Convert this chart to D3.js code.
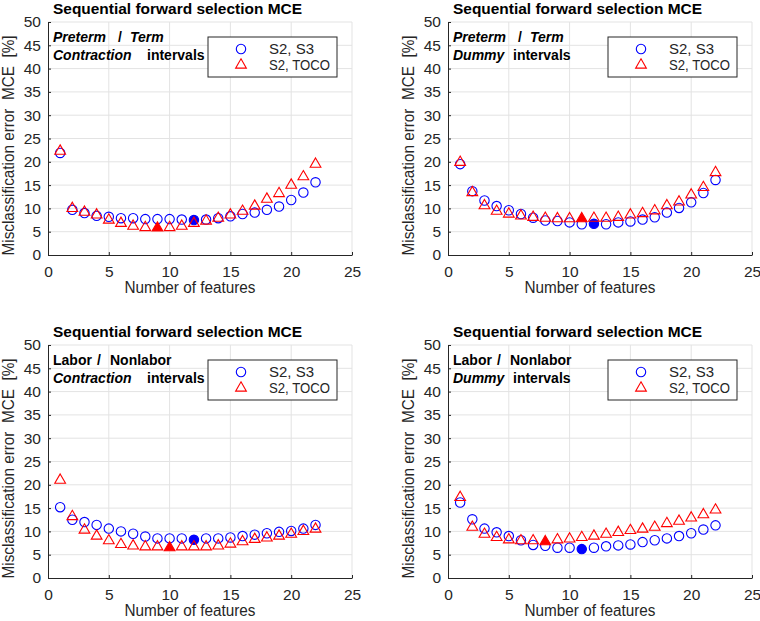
<!DOCTYPE html>
<html>
<head>
<meta charset="utf-8">
<script src="https://cdn.jsdelivr.net/npm/d3@7"></script>
<style>
body { margin: 0; background: #fff; }
text { font-family: "Liberation Sans", Arial, sans-serif; }
</style>
</head>
<body>
<div class="container"></div>
<script>
// number of features on x axis
const features = [1, 2, 3, 4, 5, 6, 7, 8, 9, 10, 11, 12, 13, 14, 15, 16, 17, 18, 19, 20, 21, 22];

// Preterm / Term, contraction intervals
const ptContS3 = [21.9, 9.7, 9.0, 8.4, 8.2, 7.9, 7.9, 7.7, 7.7, 7.7, 7.6, 7.5, 7.6, 7.9, 8.3, 8.8, 9.1, 9.7, 10.4, 11.8, 13.4, 15.6];
const ptContToco = [22.3, 10.0, 9.2, 8.6, 7.5, 6.8, 6.2, 5.9, 5.8, 5.9, 6.2, 6.8, 7.3, 7.9, 8.6, 9.4, 10.5, 12.0, 13.2, 15.0, 16.8, 19.5];

// Preterm / Term, dummy intervals
const ptDumS3 = [19.5, 13.7, 11.7, 10.5, 9.6, 8.8, 8.0, 7.4, 7.3, 7.0, 6.6, 6.7, 6.6, 7.0, 7.2, 7.6, 8.1, 9.1, 10.1, 11.3, 13.3, 16.1];
const ptDumToco = [19.9, 13.4, 10.6, 9.4, 8.8, 8.4, 8.1, 7.9, 7.8, 7.8, 7.8, 7.9, 7.9, 8.1, 8.6, 8.9, 9.5, 10.6, 11.4, 12.9, 14.5, 17.7];

// Labor / Nonlabor, contraction intervals
const lnContS3 = [15.2, 12.5, 12.0, 11.4, 10.6, 10.0, 9.5, 8.9, 8.5, 8.5, 8.5, 8.2, 8.5, 8.5, 8.7, 9.0, 9.3, 9.6, 9.9, 10.1, 10.6, 11.4];
const lnContToco = [21.0, 13.2, 10.3, 9.0, 8.0, 7.2, 6.9, 6.7, 6.7, 6.5, 6.7, 6.7, 6.7, 6.9, 7.3, 7.8, 8.3, 8.6, 9.0, 9.4, 10.0, 10.5];

// Labor / Nonlabor, dummy intervals
const lnDumS3 = [16.2, 12.6, 10.6, 9.8, 9.0, 8.1, 7.1, 6.9, 6.5, 6.5, 6.2, 6.5, 6.8, 7.0, 7.2, 7.7, 8.1, 8.5, 9.0, 9.6, 10.4, 11.3];
const lnDumToco = [17.3, 10.9, 9.4, 8.7, 8.2, 8.0, 8.0, 7.8, 8.2, 8.4, 8.7, 9.0, 9.4, 9.8, 10.2, 10.5, 10.9, 11.7, 12.2, 12.9, 13.6, 14.6];

// feature count with the lowest error (filled marker)
const bestS3 = [12, 12, 12, 11];
const bestToco = [9, 11, 10, 8];

const xTicks = [0, 5, 10, 15, 20, 25];
const yTicks = [0, 5, 10, 15, 20, 25, 30, 35, 40, 45, 50];
const seriesNames = ['S2, S3', 'S2, TOCO'];
const title = 'Sequential forward selection MCE';
const xLabel = 'Number of features';
const yLabel = 'Misclassification error  MCE  [%]';

// annotation words: [text, dx, line, bold italic?]
const notes = [
    [['Preterm', 5, 0, true], ['/', 70, 0, false], ['Term', 82, 0, true], ['Contraction', 5, 1, true], ['intervals', 99, 1, false]],
    [['Preterm', 5, 0, true], ['/', 70, 0, false], ['Term', 82, 0, true], ['Dummy', 5, 1, true], ['intervals', 65, 1, false]],
    [['Labor', 5, 0, false], ['/', 49, 0, false], ['Nonlabor', 62, 0, false], ['Contraction', 5, 1, true], ['intervals', 99, 1, false]],
    [['Labor', 5, 0, false], ['/', 49, 0, false], ['Nonlabor', 62, 0, false], ['Dummy', 5, 1, true], ['intervals', 65, 1, false]],
];

const panels = [
    { s3: ptContS3, toco: ptContToco, left: 48, top: 22 },
    { s3: ptDumS3, toco: ptDumToco, left: 448, top: 22 },
    { s3: lnContS3, toco: lnContToco, left: 48, top: 345 },
    { s3: lnDumS3, toco: lnDumToco, left: 448, top: 345 },
];

const width = 760;
const height = 621;
const pw = 304;
const ph = 233;
const blue = '#0000ff';
const red = '#ff0000';
const axisColor = '#262626';

const svg = d3.select('.container')
    .append('svg')
    .attr('width', width)
    .attr('height', height);

const xscale = d3.scaleLinear().domain([0, 25]).range([0, pw]);
const yscale = d3.scaleLinear().domain([0, 50]).range([ph, 0]);
const tri = d3.symbol().type(d3.symbolTriangle).size(50);

panels.forEach((p, k) => {
    const g = svg.append('g').attr('transform', `translate(${p.left}, ${p.top})`);

    // grid
    g.selectAll('.gx').data(xTicks.slice(1)).enter().append('line')
        .attr('x1', d => xscale(d)).attr('x2', d => xscale(d))
        .attr('y1', 0).attr('y2', ph)
        .attr('stroke', '#e3e3e3').attr('stroke-width', 1);
    g.selectAll('.gy').data(yTicks.slice(1)).enter().append('line')
        .attr('y1', d => yscale(d)).attr('y2', d => yscale(d))
        .attr('x1', 0).attr('x2', pw)
        .attr('stroke', '#e3e3e3').attr('stroke-width', 1);

    // axes (ticks point inward)
    const xa = g.append('g').attr('transform', `translate(0, ${ph})`)
        .call(d3.axisBottom(xscale).tickValues(xTicks).tickSizeInner(-3).tickSizeOuter(0).tickPadding(11));
    const ya = g.append('g')
        .call(d3.axisLeft(yscale).tickValues(yTicks).tickSizeInner(-3).tickSizeOuter(0).tickPadding(7));
    [xa, ya].forEach(a => {
        a.select('.domain').attr('stroke', axisColor);
        a.selectAll('line').attr('stroke', axisColor);
        a.selectAll('text').attr('fill', axisColor).style('font-size', '15.5px')
            .style('font-family', '"Liberation Sans", Arial, sans-serif');
    });

    // labels
    g.append('text').attr('x', 5).attr('y', -8)
        .attr('font-size', 15.5).attr('font-weight', 'bold').attr('fill', '#000')
        .attr('textLength', 249).attr('lengthAdjust', 'spacingAndGlyphs')
        .text(title);
    g.append('text').attr('x', pw / 2 - 10).attr('y', ph + 38)
        .attr('text-anchor', 'middle').attr('font-size', 16).attr('fill', axisColor)
        .attr('textLength', 131).attr('lengthAdjust', 'spacingAndGlyphs')
        .text(xLabel);
    g.append('text')
        .attr('transform', `translate(-34, ${ph / 2 + 7}) rotate(-90)`)
        .attr('text-anchor', 'middle').attr('font-size', 17).attr('fill', axisColor)
        .attr('textLength', 220).attr('lengthAdjust', 'spacingAndGlyphs')
        .style('white-space', 'pre')
        .text(yLabel);

    // annotation
    g.selectAll('.note').data(notes[k]).enter().append('text')
        .attr('x', d => d[1]).attr('y', d => 20 + d[2] * 18)
        .attr('font-size', 14).attr('font-weight', 'bold')
        .attr('font-style', d => d[3] ? 'italic' : 'normal')
        .attr('fill', '#000')
        .text(d => d[0]);

    // markers
    g.selectAll('.s3').data(features).enter().append('circle')
        .attr('cx', d => xscale(d))
        .attr('cy', (d, i) => yscale(p.s3[i]))
        .attr('r', 4.7)
        .attr('fill', d => d === bestS3[k] ? blue : 'none')
        .attr('stroke', blue).attr('stroke-width', 1.1);
    g.selectAll('.toco').data(features).enter().append('path')
        .attr('d', tri)
        .attr('transform', (d, i) => `translate(${xscale(d)}, ${yscale(p.toco[i])})`)
        .attr('fill', d => d === bestToco[k] ? red : 'none')
        .attr('stroke', red).attr('stroke-width', 1.1);

    // legend
    const lg = g.append('g').attr('transform', 'translate(160, 15)');
    lg.append('rect').attr('width', 129).attr('height', 40)
        .attr('fill', '#fff').attr('stroke', axisColor).attr('stroke-width', 1);
    lg.append('circle').attr('cx', 33).attr('cy', 12).attr('r', 4.7)
        .attr('fill', 'none').attr('stroke', blue).attr('stroke-width', 1.1);
    lg.append('path').attr('d', tri).attr('transform', 'translate(33, 28)')
        .attr('fill', 'none').attr('stroke', red).attr('stroke-width', 1.1);
    lg.selectAll('.lt').data(seriesNames).enter().append('text')
        .attr('x', 61).attr('y', (d, i) => 17 + i * 16)
        .attr('font-size', 14).attr('fill', axisColor)
        .attr('textLength', (d, i) => i ? 61 : 45).attr('lengthAdjust', 'spacingAndGlyphs')
        .text(d => d);
});
</script>
</body>
</html>
